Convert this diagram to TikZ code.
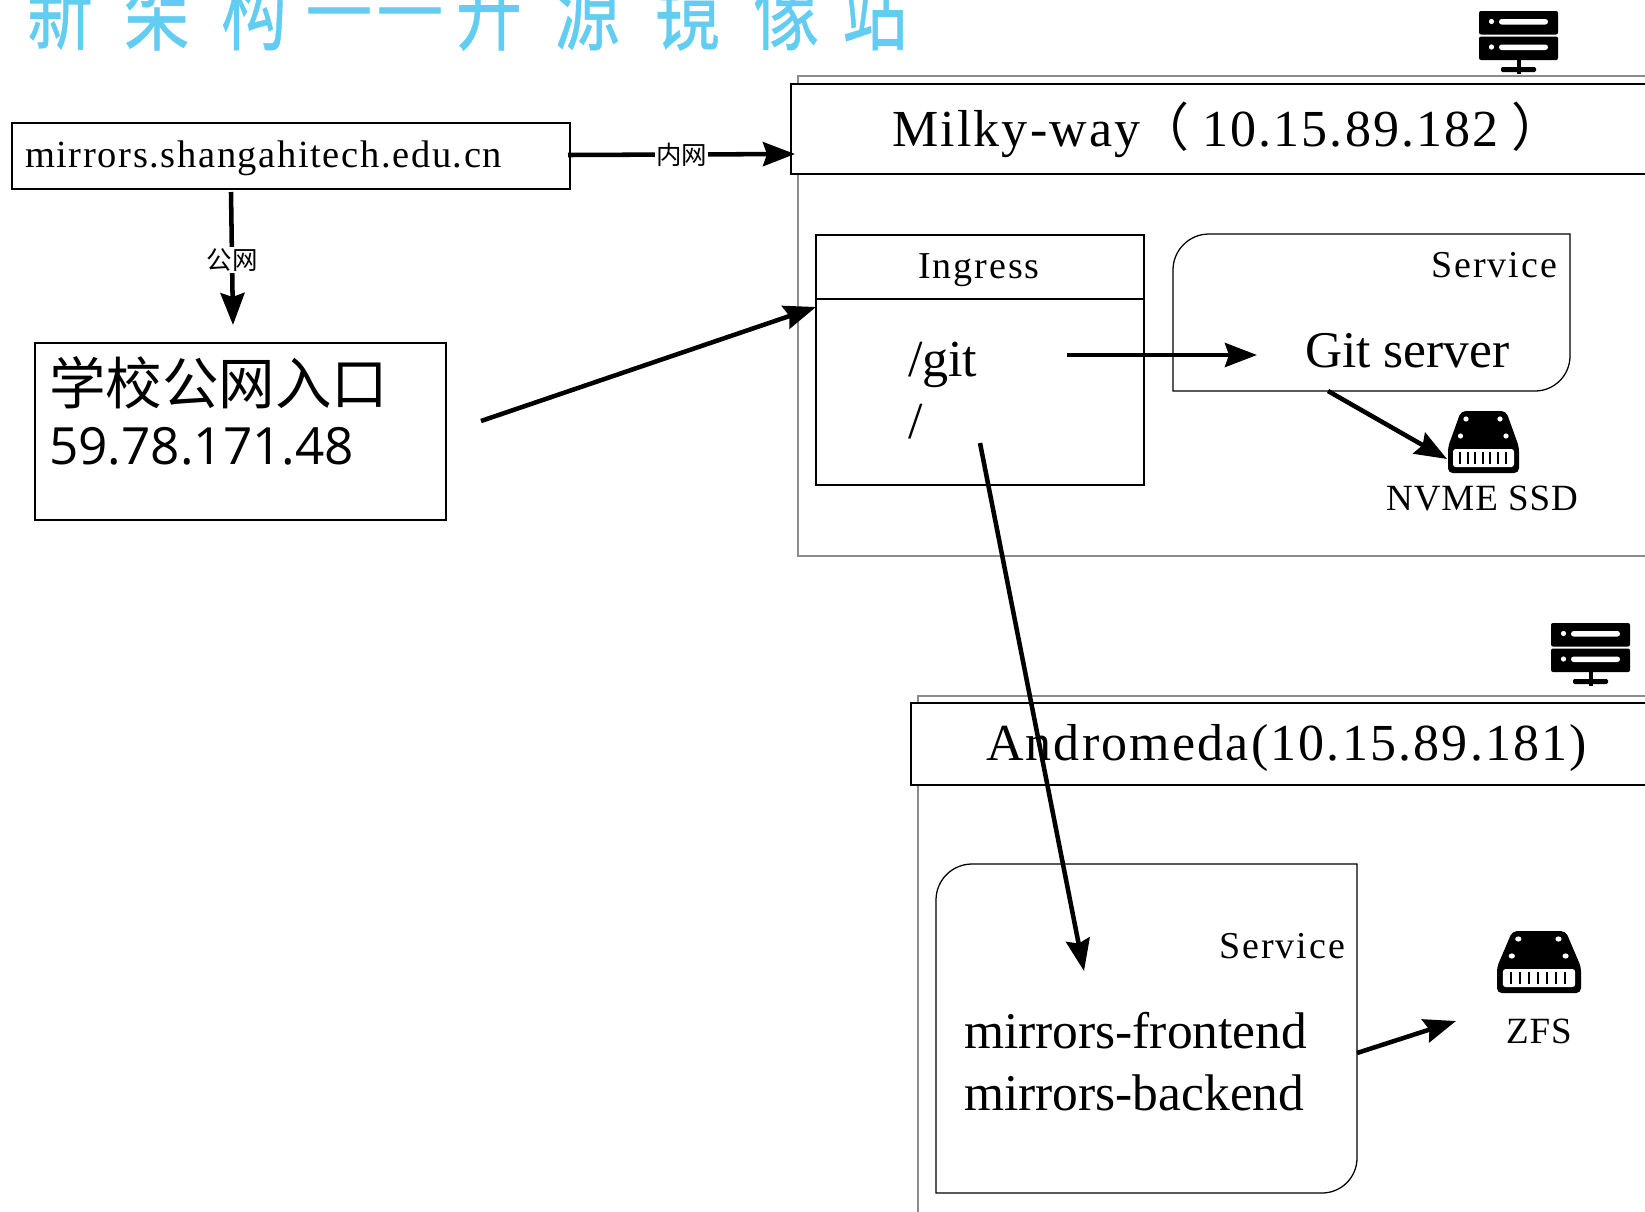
\documentclass[tikz,border=0pt]{standalone}
\usepackage{fontspec}
\usepackage{graphicx}
\setmainfont{Liberation Serif}
\newfontfamily\cjkf{Noto Sans CJK SC}
\newfontfamily\cjkt[FakeBold=0.6]{Noto Sans CJK SC}
\newfontfamily\numf{Open Sans}
\newfontfamily\spacedf[LetterSpace=4.2]{Liberation Serif}
\newfontfamily\spacedg[LetterSpace=5]{Liberation Serif}
\newfontfamily\spacedh[LetterSpace=2.5]{Liberation Serif}
\usetikzlibrary{arrows.meta}
\definecolor{titleblue}{HTML}{62CDF0}
\newcommand{\fs}[1]{\fontsize{\dimexpr #1pt*3/4\relax}{\dimexpr #1pt\relax}\selectfont}
\newcommand{\tch}[2]{\makebox[#1\dimexpr0.75pt\relax][l]{\scalebox{1}[1.36]{#2}}}
\newcommand{\tdash}[1]{\makebox[#1\dimexpr0.75pt\relax][l]{\raisebox{5.5pt}{\scalebox{1.15}[1.36]{—}}}}
\tikzset{
  x=0.75pt,y=-0.75pt,
  outerbox/.style={draw=black!45,line width=0.9pt},
  blackbox/.style={draw=black,line width=0.95pt},
  conn/.style={draw=black,line width=3.4pt,-{Stealth[length=24pt,width=18pt,inset=3pt]}},
  txt/.style={inner sep=0pt,outer sep=0pt,anchor=base west,text=black},
  txtc/.style={inner sep=0pt,outer sep=0pt,anchor=base,text=black},
  txtr/.style={inner sep=0pt,outer sep=0pt,anchor=base east,text=black},
  lab/.style={fill=white,inner sep=1pt,text=black,font=\cjkf\fs{25.5}},
  pics/servericon/.style={code={
    \fill[black,rounded corners=1.5pt] (0,0) rectangle (79,23.5);
    \fill[black,rounded corners=1.5pt] (0,25.5) rectangle (79,49);
    \fill[white] (12.5,10.5) circle (2.6);
    \fill[white] (12.5,36) circle (2.6);
    \fill[white,rounded corners=2pt] (20,8) rectangle (69,13.5);
    \fill[white,rounded corners=2pt] (20,33.5) rectangle (69,39);
    \fill[black] (37.5,49) rectangle (42,63);
    \fill[black,rounded corners=1pt] (22,56) rectangle (57,61);
  }},
  pics/diskicon/.style={code={
    \fill[black,rounded corners=3.5pt] (13,0) -- (58,0) -- (71,36) -- (71,62) -- (0,62) -- (0,36) -- cycle;
    \fill[white] (18,8) circle (2.6);
    \fill[white] (52,8) circle (2.6);
    \fill[white] (12.5,25) circle (2.6);
    \fill[white] (58,25) circle (2.6);
    \fill[white,rounded corners=2pt] (5,38) rectangle (66,56);
    \foreach \i in {0,...,6} {\fill[black] (12+\i*7.6-1,41) rectangle (12+\i*7.6+1,53);}
  }}
}
\begin{document}
\begin{tikzpicture}
\useasboundingbox (0,0) rectangle (1645,1211);
\clip (0,0) rectangle (1645,1211);
% title
\node[inner sep=0pt,outer sep=0pt,anchor=base west,text=titleblue,font=\cjkt\fs{66}] (title) at (27,43)
  {\tch{97}{新}\tch{97}{架}\tch{84}{构}\tdash{71}\tdash{80}\tch{98}{开}\tch{100}{源}\tch{99}{镜}\tch{89}{像}\tch{66}{站}};
% Milky-way
\draw[outerbox] (1700,76) -- (798,76) -- (798,556) -- (1700,556);
\path[fill=white,blackbox] (1700,84) -- (791,84) -- (791,174) -- (1700,174);
\coordinate (milkyleft) at (795,154);
\node[txt,font=\spacedf\fs{52}] (milky) at (892,146) {Milky-way};
\node[txt,font=\cjkf\fs{52}] (milkyp1) at (1137,146) {（};
\node[txt,font=\spacedf\fs{52}] (milkyip) at (1202,146) {10.15.89.182};
\node[txt,font=\cjkf\fs{52}] (milkyp2) at (1511,146) {）};
% mirrors
\draw[blackbox] (12,123) rectangle (570,189);
\node[txt,font=\spacedf\fs{38.5}] (mirrors) at (25,167) {mirrors.shangahitech.edu.cn};
\coordinate (mirE) at (568,155);
\coordinate (mirS) at (231,192);
% campus entry
\draw[blackbox] (35,343) rectangle (446,520);
\node[txt,font=\cjkf\fs{56.5}] (entry) at (49,404) {学校公网入口};
\node[txt,font=\numf\fs{51.3}] (entryip) at (49,464) {59.78.171.48};
\coordinate (entryE) at (481,421);
\coordinate (entryT) at (233,325);
% ingress
\draw[blackbox] (816,235) rectangle (1144,485);
\draw[blackbox] (816,299) -- (1144,299);
\node[txtc,font=\spacedg\fs{38}] (ingress) at (979,278) {Ingress};
\node[txt,font=\fs{52}] (gitpath) at (908,376) {/git};
\node[txt,font=\fs{52}] (rootpath) at (908,438) {/};
\coordinate (ingressW) at (816,307);
\coordinate (gitE) at (1067,355);
\coordinate (rootS) at (980,443);
% git service
\draw[blackbox] (1209,234) -- (1570,234) -- (1570,356) arc[start angle=0,end angle=90,radius=35] -- (1173,391) -- (1173,270) arc[start angle=180,end angle=270,radius=36] -- cycle;
\node[txtr,font=\spacedg\fs{38}] (svc1) at (1557,277) {Service};
\node[txt,font=\fs{51.5}] (gitsrv) at (1305,367) {Git server};
\coordinate (gitW) at (1257,355);
\coordinate (svcS) at (1328,391);
\coordinate (ssdW) at (1447,459);
\pic at (1448,411) {diskicon};
\node[txtc,font=\spacedh\fs{37}] (nvme) at (1482,510) {NVME SSD};
\pic at (1479,11) {servericon};
% Andromeda
\draw[outerbox] (1700,696) -- (918,696) -- (918,1230);
\path[fill=white,blackbox] (1700,703) -- (911,703) -- (911,785) -- (1700,785);
\node[txt,font=\spacedf\fs{52}] (andro) at (986,760) {Andromeda(10.15.89.181)};
\pic at (1551,623) {servericon};
\draw[blackbox] (972,864) -- (1357,864) -- (1357,1158) arc[start angle=0,end angle=90,radius=35] -- (936,1193) -- (936,900) arc[start angle=180,end angle=270,radius=36] -- cycle;
\node[txtr,font=\spacedg\fs{38}] (svc2) at (1345,958) {Service};
\node[txt,font=\fs{51.5}] (front) at (964,1048) {mirrors-frontend};
\node[txt,font=\fs{51.5}] (back) at (964,1110) {mirrors-backend};
\coordinate (frontT) at (1084,971);
\coordinate (svc2E) at (1357,1053);
\coordinate (zfsW) at (1456,1021);
\pic[xscale=1.183] at (1497,931) {diskicon};
\node[txtc,font=\spacedh\fs{37}] (zfs) at (1539,1043) {ZFS};
% connectors
\draw[conn] (mirE) -- node[lab] {内网} (milkyleft);
\draw[conn] (mirS) -- node[lab,yshift=-1pt] {公网} (entryT);
\draw[conn] (entryE) -- (ingressW);
\draw[conn] (gitE) -- (gitW);
\draw[conn] (svcS) -- (ssdW);
\draw[conn] (rootS) -- (frontT);
\draw[conn] (svc2E) -- (zfsW);
\end{tikzpicture}
\end{document}
